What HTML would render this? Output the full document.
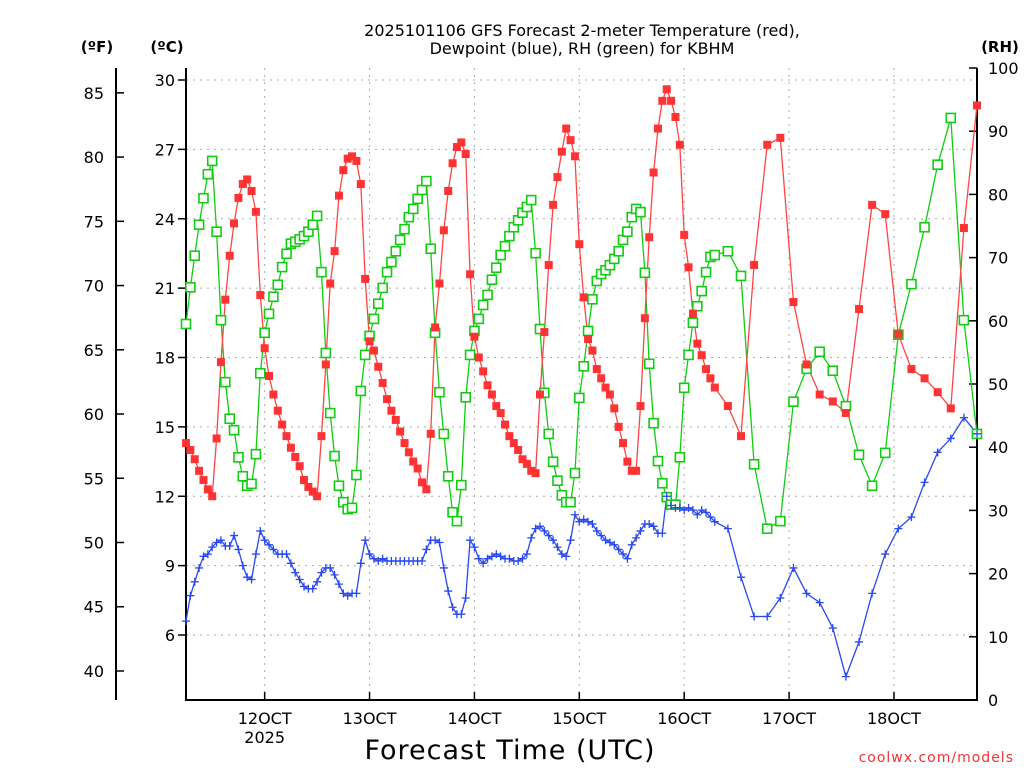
<!DOCTYPE html>
<html><head><meta charset="utf-8"><style>
html,body{margin:0;padding:0;background:#fff;}
svg{display:block;font-family:"DejaVu Sans","Liberation Sans",sans-serif;}
</style></head><body>
<svg id="chart" width="1024" height="768" viewBox="0 0 1024 768" xmlns="http://www.w3.org/2000/svg">
<rect width="1024" height="768" fill="#fff"/>
<g font-size="16" text-anchor="middle" fill="#000">
<text x="582" y="36">2025101106 GFS Forecast 2-meter Temperature (red),</text>
<text x="582" y="54">Dewpoint (blue), RH (green) for KBHM</text>
</g>
<text x="97" y="52" font-size="15" font-weight="bold" text-anchor="middle">(ºF)</text>
<text x="167" y="52" font-size="15" font-weight="bold" text-anchor="middle">(ºC)</text>
<text x="1000" y="52" font-size="15" font-weight="bold" text-anchor="middle">(RH)</text>
<text x="510" y="759" font-size="27" text-anchor="middle" letter-spacing="1">Forecast Time (UTC)</text>
<text x="1014" y="762" font-size="14" fill="#e33" text-anchor="end" letter-spacing="1">coolwx.com/models</text>
<g id="grid"></g><g id="axes"></g><g id="series"></g>
</svg>
<script>
const tempHours = [];
const tempC = [14.3,14.0,13.6,13.1,12.7,12.3,12.0,14.5,17.8,20.5,22.4,23.8,24.9,25.5,25.7,25.2,24.3,20.7,18.4,17.2,16.4,15.7,15.1,14.6,14.1,13.7,13.3,12.7,12.4,12.2,12.0,14.6,17.7,21.2,22.6,25.0,26.1,26.6,26.7,26.5,25.5,21.4,18.7,18.3,17.6,16.9,16.2,15.7,15.3,14.8,14.3,13.9,13.5,13.2,12.6,12.3,14.7,19.3,21.2,23.5,25.2,26.4,27.1,27.3,26.8,21.6,18.9,18.0,17.4,16.8,16.4,15.9,15.6,15.1,14.6,14.3,14.0,13.6,13.4,13.1,13.0,16.4,19.1,22.0,24.6,25.8,26.9,27.9,27.4,26.7,22.9,20.6,18.8,18.3,17.5,17.1,16.7,16.4,15.8,15.0,14.3,13.5,13.1,13.1,15.9,19.7,23.2,26.0,27.9,29.1,29.6,29.1,28.4,27.2,23.3,21.9,19.9,18.6,18.1,17.5,17.1,16.7,
15.9,14.6,22.0,27.2,27.5,20.4,17.7,16.4,16.1,15.6,20.1,24.6,24.2,19.0,17.5,17.1,16.5,15.8,23.6,28.9];
const rhPct = [59.5,65.3,70.3,75.2,79.4,83.2,85.3,74.1,60.1,50.3,44.5,42.7,38.4,35.4,33.9,34.2,38.9,51.7,58.1,61.1,63.8,65.7,68.5,70.6,72.2,72.5,72.9,73.4,74.1,75.2,76.6,67.7,54.9,45.4,38.6,33.9,31.3,30.2,30.4,35.6,48.9,54.6,57.6,60.3,62.7,65.2,67.7,69.3,71.0,72.8,74.5,76.4,77.7,79.3,80.7,82.1,71.4,58.1,48.7,42.1,35.4,29.7,28.3,34.0,47.9,54.6,58.4,60.3,62.5,64.1,66.5,68.4,70.4,71.8,73.4,74.8,75.9,77.1,78.0,79.1,70.7,58.7,48.6,42.1,37.7,34.7,32.4,31.3,31.3,35.9,47.8,52.8,58.4,63.4,66.3,67.4,68.0,68.8,69.8,71.0,72.8,74.1,76.4,77.7,77.2,67.6,53.2,43.8,37.8,34.3,32.1,30.9,30.9,38.4,49.4,54.6,59.7,62.3,64.7,67.7,70.1,70.4,
71.0,67.1,37.3,27.1,28.3,47.2,52.4,55.1,52.1,46.5,38.8,33.9,39.1,57.8,65.8,74.8,84.7,92.1,60.1,42.1];
const dewC = [6.6,7.7,8.3,8.9,9.4,9.5,9.8,10.0,10.1,9.85,9.85,10.3,9.7,9.0,8.5,8.4,9.5,10.5,10.1,9.9,9.7,9.5,9.5,9.5,9.1,8.7,8.4,8.1,8.0,8.0,8.3,8.7,8.9,8.9,8.6,8.2,7.8,7.7,7.8,7.8,9.1,10.1,9.5,9.3,9.2,9.3,9.2,9.2,9.2,9.2,9.2,9.2,9.2,9.2,9.2,9.7,10.1,10.1,10.0,8.9,7.9,7.2,6.9,6.9,7.6,10.1,9.8,9.3,9.1,9.3,9.4,9.5,9.4,9.3,9.3,9.2,9.2,9.3,9.5,10.2,10.6,10.7,10.5,10.3,10.1,9.8,9.5,9.4,10.1,11.2,10.9,11.0,10.9,10.8,10.5,10.3,10.1,10.0,9.9,9.7,9.5,9.3,9.9,10.2,10.5,10.8,10.8,10.7,10.4,10.4,12.0,11.6,11.5,11.5,11.4,11.5,11.4,11.2,11.4,11.3,11.1,10.9,
10.6,8.5,6.8,6.8,7.6,8.9,7.8,7.4,6.3,4.2,5.7,7.8,9.5,10.6,11.1,12.6,13.9,14.5,15.4,14.7];
for (let h = 0; h <= 121; h++) tempHours.push(h);
for (let h = 124; h <= 181; h += 3) tempHours.push(h);
const dayLabels = ['12OCT','13OCT','14OCT','15OCT','16OCT','17OCT','18OCT'];
const dayHours = [18,42,66,90,114,138,162];
const cTicks = [6,9,12,15,18,21,24,27,30];
const fTicks = [40,45,50,55,60,65,70,75,80,85];
const rhTicks = [0,10,20,30,40,50,60,70,80,90,100];

const L=186,R=977,T=68,B=700;
const xS = h => L + h*(R-L)/181;
const yC = c => 80 + (30-c)*23.125;
const yF = f => yC((f-32)*5/9);
const yRH = r => B - r*(B-T)/100;
const NS='http://www.w3.org/2000/svg';
function mk(parent,tag,attrs){const e=document.createElementNS(NS,tag);for(const k in attrs)e.setAttribute(k,attrs[k]);parent.appendChild(e);return e;}
const grid=document.getElementById('grid'), axes=document.getElementById('axes'), ser=document.getElementById('series');

cTicks.forEach(c=>{
  const g=mk(grid,'line',{x1:L,x2:R,y1:yC(c),y2:yC(c),stroke:'#aaa','stroke-dasharray':'2,5'});
  
  
  const t=mk(axes,'line',{x1:L-8,x2:L,y1:yC(c),y2:yC(c),stroke:'#000','stroke-width':1.5});
  
  
  const tx=mk(axes,'text',{x:175,y:yC(c)+6,'font-size':16,'text-anchor':'end'});
  tx.textContent=c;
  
  
});
dayHours.forEach((h,i)=>{
  const g=mk(grid,'line',{x1:xS(h),x2:xS(h),y1:T,y2:B,stroke:'#aaa','stroke-dasharray':'2,5'});
  
  
  const t=mk(axes,'line',{x1:xS(h),x2:xS(h),y1:B,y2:B-8,stroke:'#000','stroke-width':1.5});
  
  
  const tx=mk(axes,'text',{x:xS(h),y:724,'font-size':16,'text-anchor':'middle'});
  tx.textContent=dayLabels[i];
  
  
});
const yr=mk(axes,'text',{x:xS(dayHours[0]),y:743,'font-size':16,'text-anchor':'middle'});
yr.textContent='2025';


fTicks.forEach(f=>{
  const t=mk(axes,'line',{x1:116,x2:124,y1:yF(f),y2:yF(f),stroke:'#000','stroke-width':1.5});
  
  
  const tx=mk(axes,'text',{x:104,y:yF(f)+6,'font-size':16,'text-anchor':'end'});
  tx.textContent=f;
  
  
});
rhTicks.forEach(r=>{
  const t=mk(axes,'line',{x1:R-8,x2:R,y1:yRH(r),y2:yRH(r),stroke:'#000','stroke-width':1.5});
  
  
  const tx=mk(axes,'text',{x:988,y:yRH(r)+6,'font-size':16,'text-anchor':'start'});
  tx.textContent=r;
  
  
});
const fAx=mk(axes,'line',{x1:116,x2:116,y1:T,y2:B,stroke:'#000','stroke-width':2});


const lAx=mk(axes,'line',{x1:L,x2:L,y1:T,y2:B+1,stroke:'#000','stroke-width':2});


const rAx=mk(axes,'line',{x1:R,x2:R,y1:T,y2:B+1,stroke:'#000','stroke-width':2});


const bAx=mk(axes,'line',{x1:L,x2:R,y1:B,y2:B,stroke:'#000','stroke-width':2});



function drawLine(vals,yf,color,name){
  const pts=vals.map((v,i)=>xS(tempHours[i]).toFixed(1)+','+yf(v).toFixed(1)).join(' ');
  const p=mk(ser,'polyline',{points:pts,fill:'none',stroke:color,'stroke-width':1.3});
  
  
}
drawLine(rhPct,yRH,'#1c1','rh');
drawLine(tempC,yC,'#f44','temperature');
drawLine(dewC,yC,'#2848f0','dewpoint');
rhPct.forEach((v,i)=>{
  const m=mk(ser,'rect',{x:xS(tempHours[i])-4.5,y:yRH(v)-4.5,width:9,height:9,fill:'#fff',stroke:'#1c1','stroke-width':1.6});
  
  
});
tempC.forEach((v,i)=>{
  const m=mk(ser,'rect',{x:xS(tempHours[i])-4,y:yC(v)-4,width:8,height:8,fill:'#f33'});
  
  
});
dewC.forEach((v,i)=>{
  const x=xS(tempHours[i]),y=yC(v);
  const m=mk(ser,'path',{d:`M${x-4},${y}H${x+4}M${x},${y-4}V${y+4}`,stroke:'#2848f0','stroke-width':1.3,fill:'none'});
  
  
});
</script>
</body></html>
